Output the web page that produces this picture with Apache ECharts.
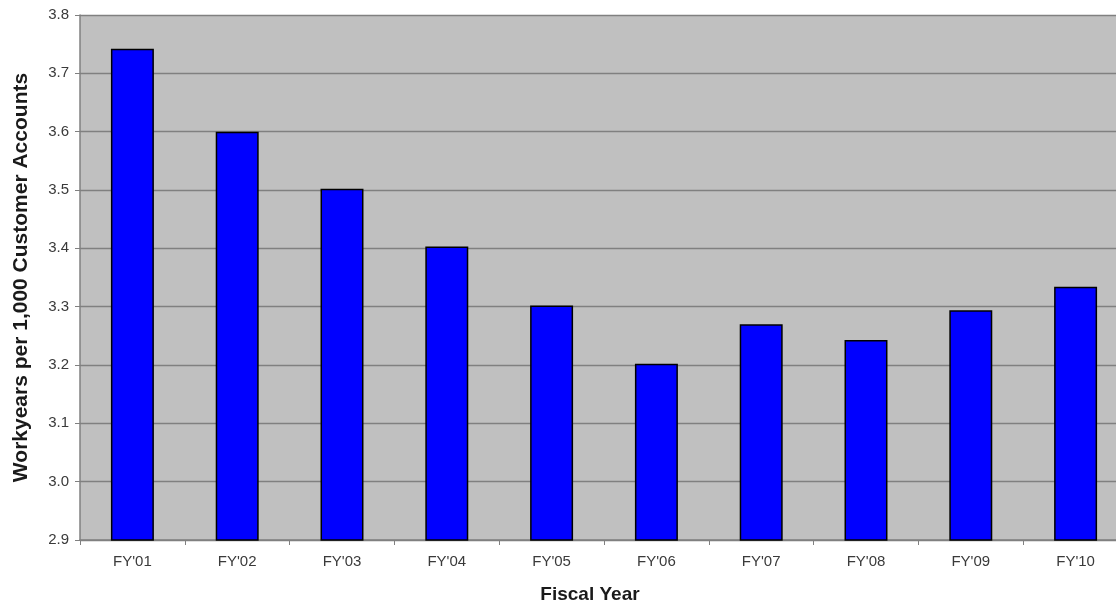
<!DOCTYPE html>
<html>
<head>
<meta charset="utf-8">
<script src="https://cdn.jsdelivr.net/npm/echarts@6/dist/echarts.min.js"></script>
<style>
  html, body { margin: 0; padding: 0; background: #fff; }
  #chart { width: 1116px; height: 605px; }
</style>
</head>
<body>
<div id="chart"></div>
<script>
// Fiscal years and staffing ratio
const years = ["FY'01", "FY'02", "FY'03", "FY'04", "FY'05", "FY'06", "FY'07", "FY'08", "FY'09", "FY'10"];
const workyears = [3.742, 3.600, 3.502, 3.403, 3.302, 3.202, 3.270, 3.243, 3.294, 3.334];

const chart = echarts.init(document.getElementById('chart'));
chart.setOption({
  animation: false,
  grid: {
    left: 80, right: -12, top: 15, bottom: 65,
    outerBoundsMode: 'none',
    show: true, backgroundColor: '#c0c0c0', borderWidth: 0
  },
  xAxis: {
    type: 'category',
    data: years,
    name: 'Fiscal Year',
    nameLocation: 'middle',
    nameGap: 45,
    nameTextStyle: { fontFamily: 'Liberation Sans', fontSize: 19, fontWeight: 'bold', color: '#1a1a1a', padding: [0, 0, 0, -28] },
    axisLine: { lineStyle: { color: '#808080', width: 1.5 } },
    axisTick: { show: true, length: 5, lineStyle: { color: '#808080' } },
    axisLabel: { fontFamily: 'Liberation Sans', fontSize: 15, color: '#3a3a3a', margin: 14 }
  },
  yAxis: {
    type: 'value',
    min: 2.9, max: 3.8, interval: 0.1,
    name: 'Workyears per 1,000 Customer Accounts',
    nameLocation: 'middle',
    nameGap: 48,
    nameTextStyle: { fontFamily: 'Liberation Sans', fontSize: 21, fontWeight: 'bold', color: '#1a1a1a' },
    axisLine: { show: true, lineStyle: { color: '#808080', width: 1.5 } },
    axisTick: { show: true, length: 5, lineStyle: { color: '#808080' } },
    axisLabel: { fontFamily: 'Liberation Sans', fontSize: 15, color: '#3a3a3a', margin: 11,
      formatter: v => v.toFixed(1) },
    splitLine: { show: true, lineStyle: { color: '#808080', width: 1.3 } }
  },
  series: [{
    type: 'bar',
    data: workyears,
    barWidth: '41%',
    itemStyle: { color: '#0000ff', borderColor: '#000', borderWidth: 1.5 }
  }]
});
</script>
</body>
</html>
